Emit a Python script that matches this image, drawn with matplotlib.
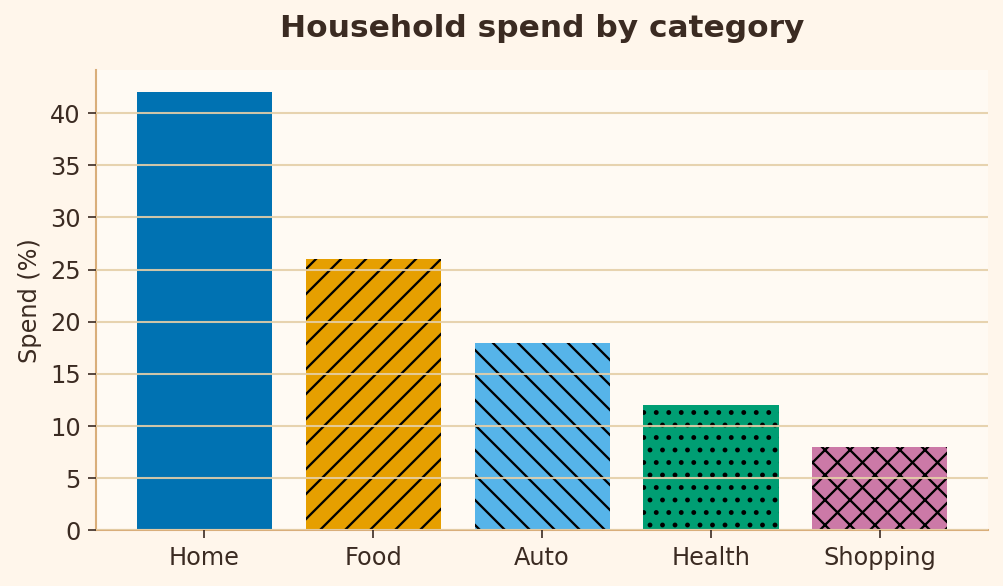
import matplotlib
matplotlib.use('Agg')
import matplotlib.pyplot as plt
import numpy as np

# data
categories = ['Home', 'Food', 'Auto', 'Health', 'Shopping']
spend = [42, 26, 18, 12, 8]
colors = ['#0072B2', '#E69F00', '#56B4E9', '#009E73', '#CC79A7']
hatches = ['', '//', '\\\\', '..', 'xx']

text_color = '#3B2B22'
spine_color = '#D9AE7A'
grid_color = '#E5CFA8'

plt.rcParams['hatch.linewidth'] = 1.1

fig, ax = plt.subplots(figsize=(1003 / 150, 586 / 150), dpi=150)
fig.patch.set_facecolor('#FFF6EB')
ax.set_facecolor('#FFFAF3')

x = np.arange(len(categories))
bars = ax.bar(x, spend, width=0.8, color=colors, edgecolor='none')
for b, h in zip(bars, hatches):
    if h:
        b.set_hatch(h)
        b.set_edgecolor('black')
        b.set_linewidth(0)

ax.set_ylim(0, max(spend) * 1.05)
ax.set_xticks(x)
ax.set_xticklabels(categories)
ax.set_yticks(range(0, 45, 5))

ax.grid(axis='y', color=grid_color, linewidth=1.0, alpha=0.9)
ax.set_axisbelow(False)

for s in ['top', 'right']:
    ax.spines[s].set_visible(False)
for s in ['left', 'bottom']:
    ax.spines[s].set_color(spine_color)
    ax.spines[s].set_linewidth(1.0)

ax.tick_params(colors=text_color, labelsize=11.5, length=4)
ax.set_ylabel('Spend (%)', color=text_color, fontsize=11.5)
ax.set_title('Household spend by category', color=text_color, fontsize=15,
             fontweight='bold', pad=16)

fig.subplots_adjust(left=0.096, right=0.985, top=0.88, bottom=0.095)
fig.savefig('out.png', dpi=150, facecolor=fig.get_facecolor())
